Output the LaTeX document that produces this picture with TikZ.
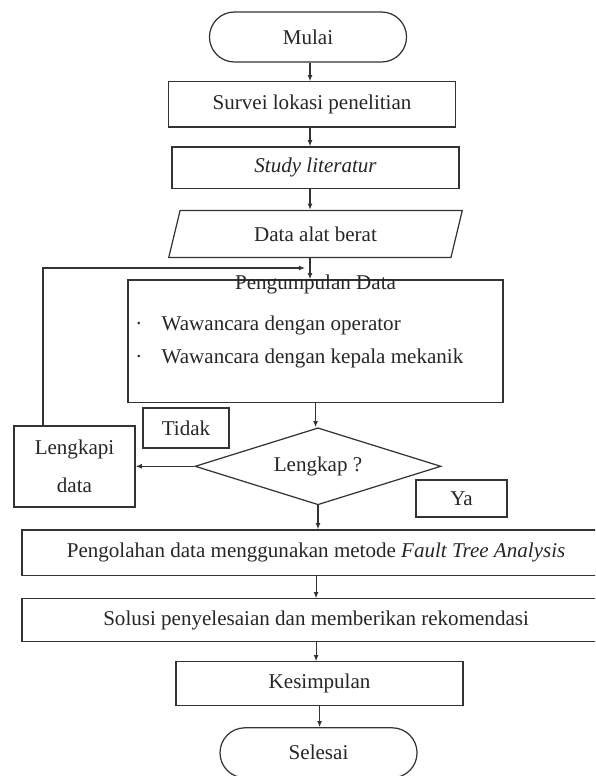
\documentclass[tikz,border=0pt]{standalone}
\usepackage{fontspec}
\setmainfont{Liberation Serif}
\usetikzlibrary{arrows.meta,positioning,shapes.geometric}

\begin{document}
\begin{tikzpicture}[
x=0.57pt, y=-0.57pt,
font=\fontsize{12}{14.5}\selectfont,
box/.style={draw=black!80, line width=0.7pt, minimum width=163.6pt, minimum height=25.7pt, align=center, text=black!85},
term/.style={box, rounded corners=14.2pt, minimum width=112.3pt, minimum height=28.5pt},
io/.style={box, trapezium, trapezium left angle=78, trapezium right angle=102, trapezium stretches=true, minimum width=168pt, minimum height=26.8pt},
decision/.style={box, diamond, aspect=3.2, inner sep=0pt, minimum width=140.2pt, minimum height=43.9pt},
arrow/.style={-{Latex[length=3.5pt, width=2.8pt]}, line width=0.6pt, draw=black!80}
]
\clip (0,0) rectangle (595,776);
\node[term] (mulai) at (308,37) {Mulai};
\node[box, below=10.6pt of mulai, xshift=2.3pt] (survei) {Survei lokasi penelitian};
\node[box, below=10.7pt of survei, xshift=2pt, minimum height=23.9pt] (study) {\textit{Study literatur}};
\node[io, below=11.6pt of study] (data) {Data alat berat};
\node[box, below=12.1pt of data, minimum width=213.8pt, minimum height=70pt] (kumpul) {};
\node[text=black!85] (judul) at ([yshift=-2.85pt]kumpul.north) {Pengumpulan Data};
\node[anchor=west, align=left, inner sep=0pt, text=black!85] (wawancara) at (135,342) {\textperiodcentered\hspace{11pt}Wawancara dengan operator\\[4pt]\textperiodcentered\hspace{11pt}Wawancara dengan kepala mekanik};
\node[decision, below=13.6pt of kumpul, xshift=1.4pt] (lengkap) {Lengkap ?};
\node[box, below=13.6pt of lengkap, xshift=-1.1pt, minimum width=335.2pt, minimum height=26.2pt] (olah) {Pengolahan data menggunakan metode \textit{Fault Tree Analysis}};
\node[box, below=12.4pt of olah, minimum width=335.2pt, minimum height=24.5pt] (solusi) {Solusi penyelesaian dan memberikan rekomendasi};
\node[box, below=10.7pt of solusi, xshift=2pt, minimum height=25.1pt] (simpul) {Kesimpulan};
\node[term, below=11.8pt of simpul, xshift=-0.6pt] (selesai) {Selesai};
\node[box, minimum width=69pt, minimum height=46.2pt] (lengkapi) at (74.5,466.5) {Lengkapi\\[7pt]data};
\node[box, minimum width=49pt, minimum height=22.8pt] (tidak) at (186,428) {Tidak};
\node[box, minimum width=51.9pt, minimum height=21.1pt] (ya) at (461.5,498.5) {Ya};
\coordinate (sumbu) at (310,0);
\coordinate (balik) at (43,268);
\coordinate (masuk) at (305,268);
\draw[arrow] (sumbu |- mulai.south) -- (sumbu |- survei.north);
\draw[arrow] (sumbu |- survei.south) -- (sumbu |- study.north);
\draw[arrow] (sumbu |- study.south) -- (sumbu |- data.north);
\draw[arrow] (sumbu |- data.south) -- (sumbu |- kumpul.north);
\draw[arrow] (kumpul.south) -- (kumpul.south |- lengkap.north);
\draw[arrow] (lengkap.west) -- (lengkap.west -| lengkapi.east);
\draw[arrow] (balik |- lengkapi.north) -- (balik) -- (masuk);
\draw[arrow] (lengkap.south) -- (lengkap.south |- olah.north);
\draw[arrow] (olah.south) -- (solusi.north);
\draw[arrow] (solusi.south) -- (solusi.south |- simpul.north);
\draw[arrow] (simpul.south) -- (simpul.south |- selesai.north);
\end{tikzpicture}
\end{document}
